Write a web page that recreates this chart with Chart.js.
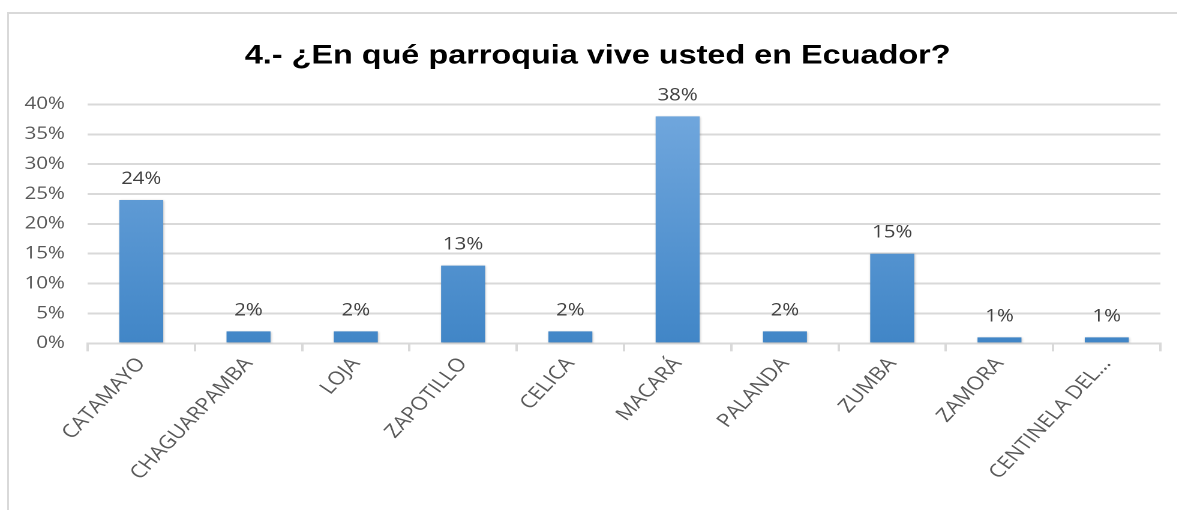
<!DOCTYPE html>
<html>
<head>
<meta charset="utf-8">
<script src="https://cdn.jsdelivr.net/npm/chart.js@4.4.0/dist/chart.umd.min.js"></script>
<style>
    html, body { margin: 0; padding: 0; background: #fff; overflow: hidden; }
    #marco {
        position: absolute; left: 7px; top: 12px; width: 1180px; height: 510px;
        border-left: 2px solid #d9d9d9; border-top: 2px solid #d9d9d9;
    }
    /* la imagen original está algo estirada en horizontal */
    #wrap {
        position: absolute; left: 0; top: 0; width: 981px; height: 510px;
        transform: scaleX(1.2); transform-origin: 0 0;
    }
</style>
</head>
<body>
<div id="marco"></div>
<div id="wrap"><canvas id="parroquiaChart" style="width:981px;height:510px"></canvas></div>
<script>
// datos
const parroquias = ['CATAMAYO', 'CHAGUARPAMBA', 'LOJA', 'ZAPOTILLO', 'CELICA', 'MACARÁ', 'PALANDA', 'ZUMBA', 'ZAMORA', 'CENTINELA DEL…'];
const porcentajes = [24, 2, 2, 13, 2, 38, 2, 15, 1, 1];
const ticksY = [0, 5, 10, 15, 20, 25, 30, 35, 40];

const fuente = "'Open Sans', sans-serif";
const gris = '#595959';

// etiquetas encima de cada barra
const etiquetasBarras = {
    id: 'etiquetasBarras',
    afterDatasetsDraw(chart) {
        const ctx = chart.ctx;
        const meta = chart.getDatasetMeta(0);
        ctx.save();
        ctx.font = '17px ' + fuente;
        ctx.fillStyle = '#404040';
        ctx.textAlign = 'center';
        ctx.textBaseline = 'alphabetic';
        meta.data.forEach((bar, i) => {
            ctx.fillText(porcentajes[i] + '%', bar.x, bar.y - 16);
        });
        ctx.restore();
    }
};

// sombra suave de las barras
const sombra = {
    id: 'sombra',
    beforeDatasetsDraw(chart) {
        chart.ctx.save();
        chart.ctx.shadowColor = 'rgba(0,0,0,0.25)';
        chart.ctx.shadowBlur = 4;
        chart.ctx.shadowOffsetX = 1;
        chart.ctx.shadowOffsetY = 1;
    },
    afterDatasetsDraw(chart) {
        chart.ctx.restore();
    }
};

function degradado(context) {
    const area = context.chart.chartArea;
    if (!area) return '#5b9bd5';
    const g = context.chart.ctx.createLinearGradient(0, area.top, 0, area.bottom);
    g.addColorStop(0, '#72a8de');
    g.addColorStop(1, '#4186c7');
    return g;
}

const ctx = document.getElementById('parroquiaChart').getContext('2d');
new Chart(ctx, {
    type: 'bar',
    data: {
        labels: parroquias,
        datasets: [{
            data: porcentajes,
            backgroundColor: degradado,
            borderWidth: 0,
            barPercentage: 0.82,
            categoryPercentage: 0.5
        }]
    },
    options: {
        responsive: false,
        animation: false,
        devicePixelRatio: 2,
        layout: { padding: { left: 15, right: 0, top: 0, bottom: 24 } },
        plugins: {
            legend: { display: false },
            tooltip: { enabled: false },
            title: {
                display: true,
                text: '4.- ¿En qué parroquia vive usted en Ecuador?',
                color: '#000',
                font: { family: "'Liberation Sans', Arial, sans-serif", size: 27, weight: 'bold' },
                padding: { top: 40, bottom: 32 }
            }
        },
        scales: {
            x: {
                // que las etiquetas inclinadas no empujen el área del gráfico
                afterFit(scale) {
                    scale.paddingLeft = 0;
                    scale.paddingRight = 14;
                },
                grid: {
                    display: true,
                    drawOnChartArea: false,
                    drawTicks: true,
                    tickLength: 8,
                    color: '#d9d9d9',
                    lineWidth: 2
                },
                border: { display: true, color: '#d9d9d9', width: 2 },
                ticks: {
                    color: gris,
                    font: { family: fuente, size: 18.5 },
                    minRotation: 51,
                    maxRotation: 51,
                    autoSkip: false,
                    padding: 2
                }
            },
            y: {
                min: 0,
                max: 40,
                afterBuildTicks(axis) {
                    axis.ticks = ticksY.map(v => ({ value: v }));
                },
                afterFit(scale) {
                    scale.width = 58;
                },
                grid: { color: '#d9d9d9', lineWidth: 2, drawTicks: false },
                border: { display: false },
                ticks: {
                    color: gris,
                    font: { family: fuente, size: 17 },
                    padding: 19,
                    callback: v => v + '%'
                }
            }
        }
    },
    plugins: [sombra, etiquetasBarras]
});
</script>
</body>
</html>
